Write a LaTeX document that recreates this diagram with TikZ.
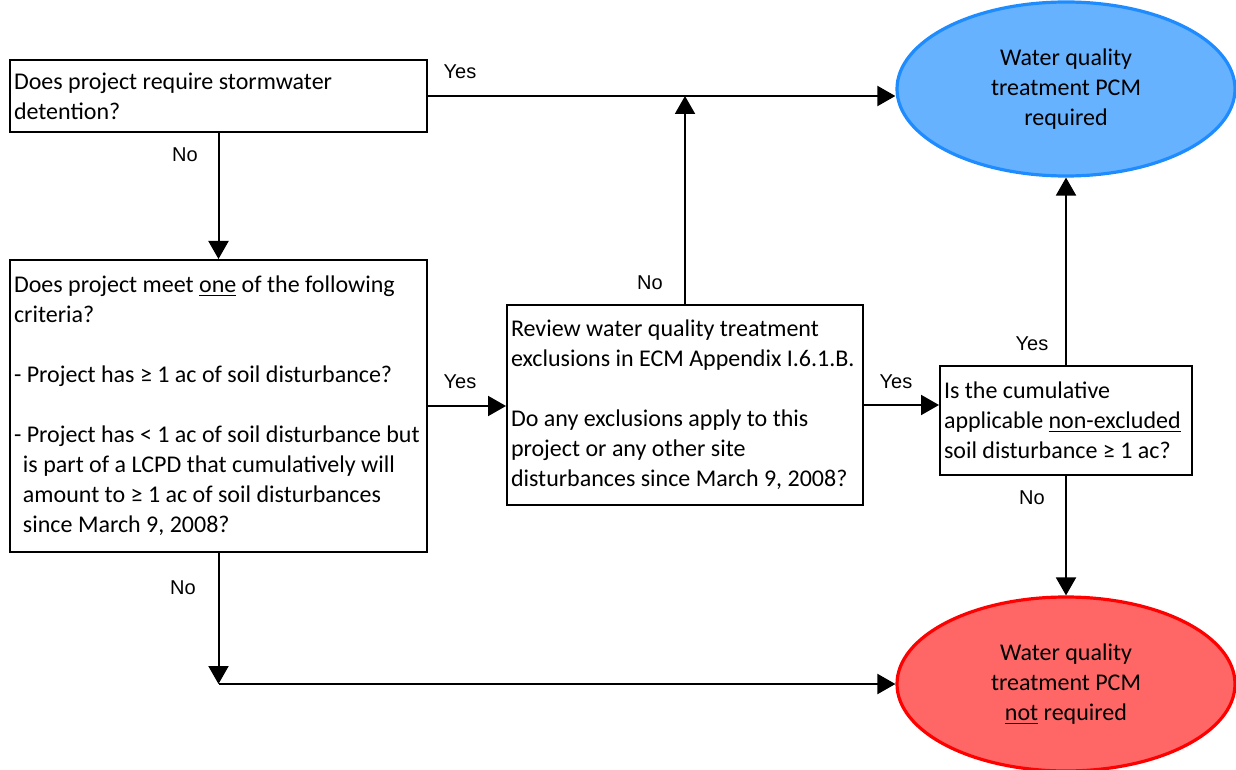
\documentclass[tikz,border=0pt]{standalone}
\usepackage{fontspec}
\setmainfont{Carlito}
\newfontfamily\lblfont{Liberation Sans}
\usetikzlibrary{shapes.geometric,arrows.meta}

\definecolor{ovalblue}{HTML}{66B2FF}
\definecolor{ovalblueline}{HTML}{1E8CFF}
\definecolor{ovalred}{HTML}{FF6666}
\definecolor{ovalredline}{HTML}{FF0000}

\tikzset{
	box/.style={draw, line width=1pt, rectangle, inner xsep=2pt, inner ysep=0pt, align=flush left, font=\fontsize{12}{15}\selectfont},
	oval/.style={ellipse, line width=1.6pt, minimum width=169pt, minimum height=87pt, inner sep=0pt, align=center, font=\fontsize{12}{15}\selectfont},
	arr/.style={line width=1pt, -{Triangle[length=9pt,width=10pt]}},
	lbl/.style={font=\lblfont\fontsize{10}{12}\selectfont}
}

\begin{document}
\begin{tikzpicture}[x=0.5pt,y=-0.5pt]

		\useasboundingbox (0,0) rectangle (1236,770);

		\def \ind {\hspace*{4.5pt}};

		\node (qa) at (218.5,96) [box, text width=204.5pt, minimum height=36pt] {\mbox{Does project require stormwater}\\detention?};
		\node (qb) at (218.5,406) [box, text width=204.5pt, minimum height=146pt] {\mbox{Does project meet \underline{one} of the following}\\criteria?\\[15pt]\mbox{- Project has ≥ 1 ac of soil disturbance?}\\[15pt]\mbox{- Project has < 1 ac of soil disturbance but}\\\mbox{\ind is part of a LCPD that cumulatively will}\\\mbox{\ind amount to ≥ 1 ac of soil disturbances}\\\mbox{\ind since March 9, 2008?}};
		\node (rev) at (685,405) [box, text width=174pt, minimum height=100pt] {\mbox{Review water quality treatment}\\\mbox{exclusions in ECM Appendix I.6.1.B.}\\[15pt]\mbox{Do any exclusions apply to this}\\\mbox{project or any other site}\\\mbox{disturbances since March 9, 2008?}};
		\node (cum) at (1066,420.5) [box, text width=122pt, minimum height=54.5pt] {\mbox{Is the cumulative}\\\mbox{applicable \underline{non-excluded}}\\\mbox{soil disturbance ≥ 1 ac?}};

		\node (wqr) at (1066,89) [oval, draw=ovalblueline, fill=ovalblue] {Water quality\\treatment PCM\\required};
		\node (wqn) at (1066,684) [oval, draw=ovalredline, fill=ovalred] {Water quality\\treatment PCM\\\underline{not} required};

		\coordinate (turn) at (qb.south |- wqn.west);

		\draw[arr] (qa.east) -- (qa.east -| wqr.west);
		\draw[arr] (qa.south) -- (qb.north);
		\draw[arr] (qb.east) -- (qb.east -| rev.west);
		\draw[arr] (rev.north) -- (rev.north |- qa.east);
		\draw[arr] (rev.east) -- (rev.east -| cum.west);
		\draw[arr] (cum.north) -- (wqr.south);
		\draw[arr] (cum.south) -- (wqn.north);
		\draw[arr] (qb.south) -- (turn);
		\draw[arr] (turn) -- (wqn.west);

		\node (ya) at (460,72) [lbl] {Yes};
		\node (na) at (185,155) [lbl] {No};
		\node (yb) at (460,382) [lbl] {Yes};
		\node (nb) at (183,588) [lbl] {No};
		\node (nr) at (650,283) [lbl] {No};
		\node (yr) at (896,382) [lbl] {Yes};
		\node (yc) at (1032,344) [lbl] {Yes};
		\node (nc) at (1032,498) [lbl] {No};

\end{tikzpicture}
\end{document}
